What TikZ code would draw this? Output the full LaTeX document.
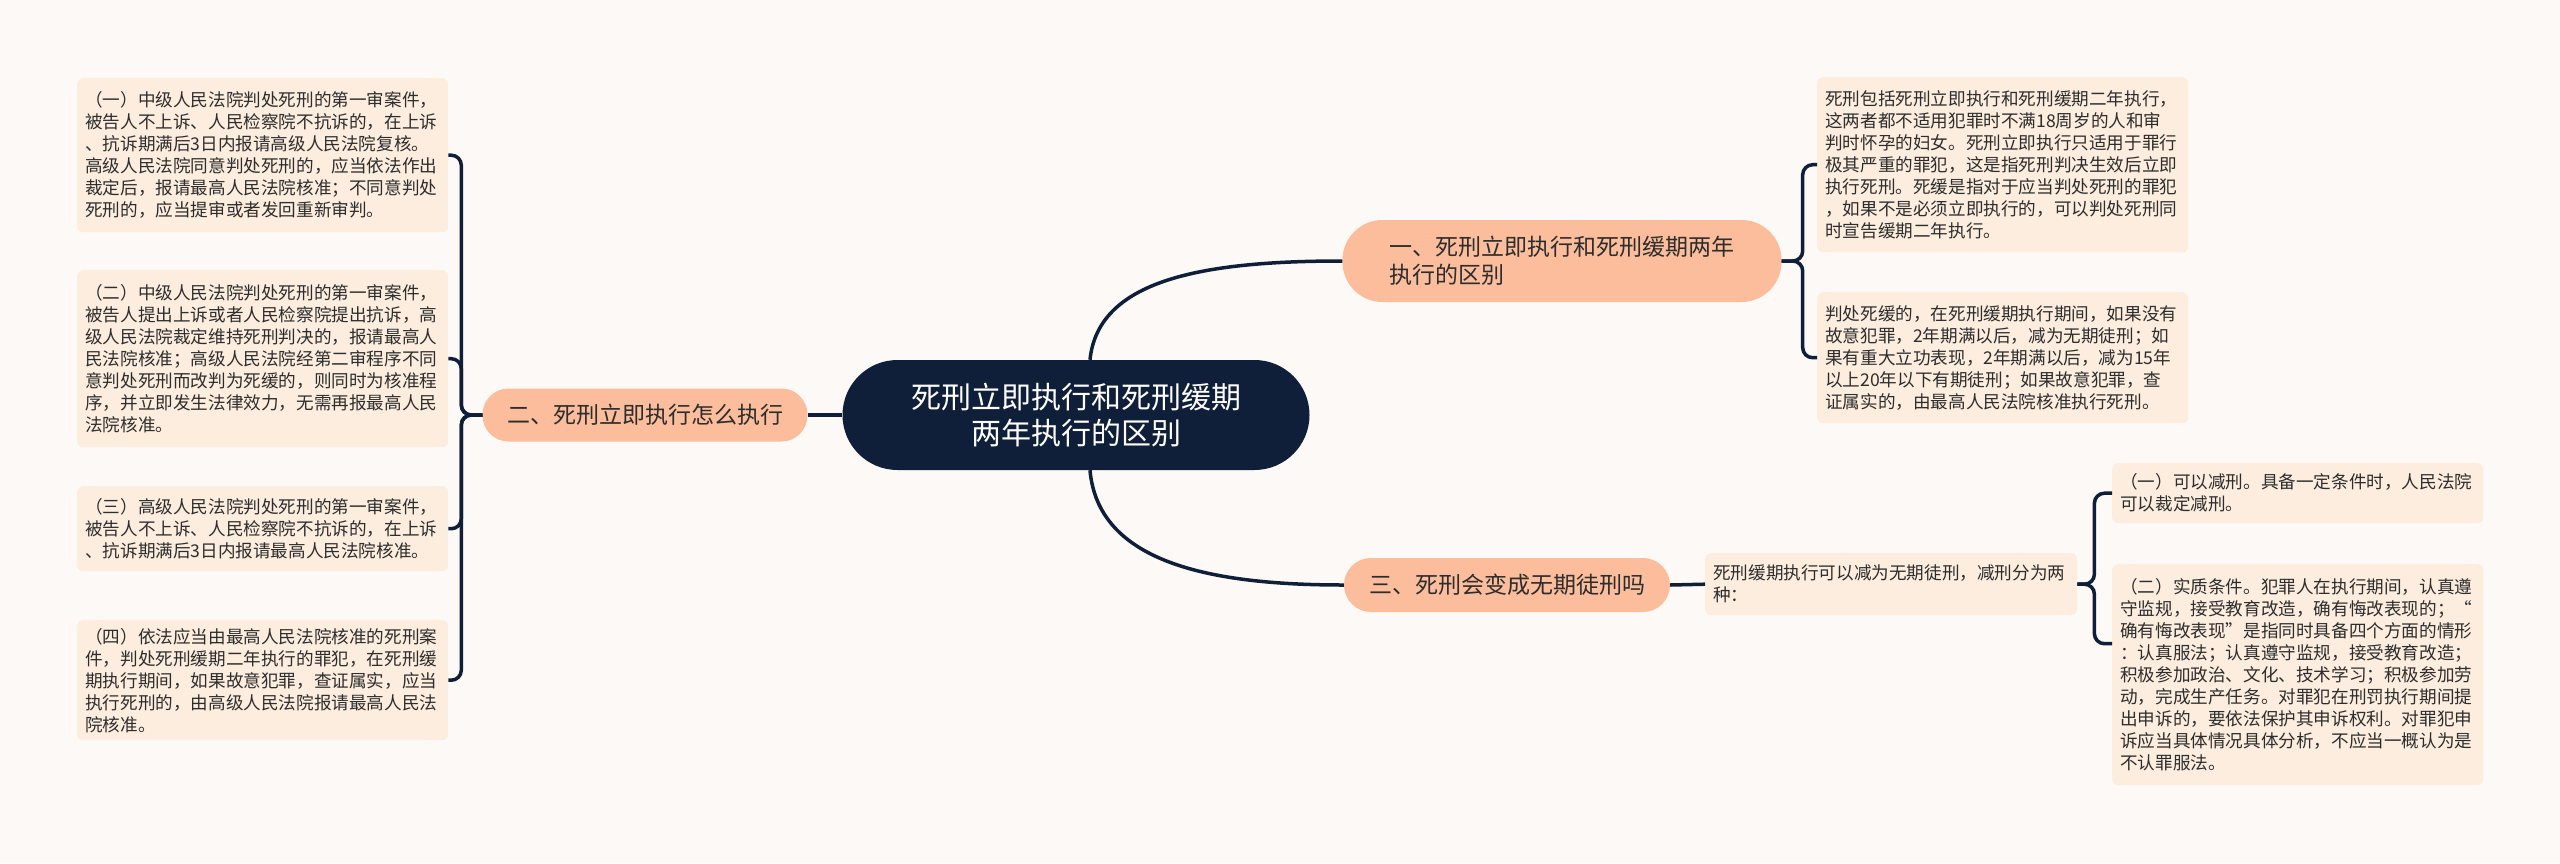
\documentclass[tikz,border=0pt]{standalone}
\usepackage{fontspec}
\setmainfont{Noto Sans CJK SC}
\usepackage{tikz}
\usetikzlibrary{positioning}
\usetikzlibrary{calc}
\definecolor{bgcol}{RGB}{253,249,246}
\definecolor{navy}{RGB}{15,31,58}
\definecolor{peach}{RGB}{251,189,155}
\definecolor{cream}{RGB}{252,237,222}
\definecolor{ink}{RGB}{45,45,45}
\tikzstyle{rootnode}=[fill=navy,text=white,rounded corners=55pt,minimum width=467pt,minimum height=110pt,align=center,font=\fontsize{30}{36}\selectfont]
\tikzstyle{topic}=[fill=peach,text=ink,font=\fontsize{23}{28}\selectfont]
\tikzstyle{leaf}=[fill=cream,text=ink,rounded corners=6pt,anchor=north west,inner xsep=8pt,text width=355pt,align=left,font=\fontsize{17.6}{22}\selectfont]
\tikzstyle{link}=[draw=navy,line width=3.5pt]

\begin{document}
\begin{tikzpicture}[x=1pt,y=-1pt]

  \fill[bgcol] (0,0) rectangle (2560,863);
  \useasboundingbox (0,0) rectangle (2560,863);

  \node[rootnode] (root) at (1076,415) {死刑立即执行和死刑缓期\\两年执行的区别};

  % first level
  \node[topic,rounded corners=40pt,minimum width=439pt,minimum height=82pt,text width=345pt,align=left] (t1) at (1562,261) {一、死刑立即执行和死刑缓期两年\\执行的区别};
  \node[topic,rounded corners=26pt,minimum width=325pt,minimum height=53pt] (t2) at (645,415) {二、死刑立即执行怎么执行};
  \node[topic,rounded corners=27pt,minimum width=326pt,minimum height=54pt] (t3) at (1507,585) {三、死刑会变成无期徒刑吗};

  % left leaves
  \node[leaf,minimum height=154pt] (l1) at (77,78) {（一）中级人民法院判处死刑的第一审案件，\\被告人不上诉、人民检察院不抗诉的，在上诉\\、抗诉期满后3日内报请高级人民法院复核。\\高级人民法院同意判处死刑的，应当依法作出\\裁定后，报请最高人民法院核准；不同意判处\\死刑的，应当提审或者发回重新审判。};
  \node[leaf,minimum height=177pt] (l2) at (77,270) {（二）中级人民法院判处死刑的第一审案件，\\被告人提出上诉或者人民检察院提出抗诉，高\\级人民法院裁定维持死刑判决的，报请最高人\\民法院核准；高级人民法院经第二审程序不同\\意判处死刑而改判为死缓的，则同时为核准程\\序，并立即发生法律效力，无需再报最高人民\\法院核准。};
  \node[leaf,minimum height=85pt] (l3) at (77,486) {（三）高级人民法院判处死刑的第一审案件，\\被告人不上诉、人民检察院不抗诉的，在上诉\\、抗诉期满后3日内报请最高人民法院核准。};
  \node[leaf,minimum height=120pt] (l4) at (77,620) {（四）依法应当由最高人民法院核准的死刑案\\件，判处死刑缓期二年执行的罪犯，在死刑缓\\期执行期间，如果故意犯罪，查证属实，应当\\执行死刑的，由高级人民法院报请最高人民法\\院核准。};

  % right leaves
  \node[leaf,minimum height=175pt] (r1) at (1817,77) {死刑包括死刑立即执行和死刑缓期二年执行，\\这两者都不适用犯罪时不满18周岁的人和审\\判时怀孕的妇女。死刑立即执行只适用于罪行\\极其严重的罪犯，这是指死刑判决生效后立即\\执行死刑。死缓是指对于应当判处死刑的罪犯\\，如果不是必须立即执行的，可以判处死刑同\\时宣告缓期二年执行。};
  \node[leaf,minimum height=131pt] (r2) at (1817,292) {判处死缓的，在死刑缓期执行期间，如果没有\\故意犯罪，2年期满以后，减为无期徒刑；如\\果有重大立功表现，2年期满以后，减为15年\\以上20年以下有期徒刑；如果故意犯罪，查\\证属实的，由最高人民法院核准执行死刑。};
  \node[leaf,minimum height=62pt,text width=356pt] (r3) at (1705,553) {死刑缓期执行可以减为无期徒刑，减刑分为两\\种：};
  \node[leaf,minimum height=60pt] (r4) at (2112,463) {（一）可以减刑。具备一定条件时，人民法院\\可以裁定减刑。};
  \node[leaf,minimum height=221pt] (r5) at (2112,564) {（二）实质条件。犯罪人在执行期间，认真遵\\守监规，接受教育改造，确有悔改表现的；“\\确有悔改表现”是指同时具备四个方面的情形\\：认真服法；认真遵守监规，接受教育改造；\\积极参加政治、文化、技术学习；积极参加劳\\动，完成生产任务。对罪犯在刑罚执行期间提\\出申诉的，要依法保护其申诉权利。对罪犯申\\诉应当具体情况具体分析，不应当一概认为是\\不认罪服法。};

  % connectors
  \draw[link] (t2.east) -- (root.west);
  \draw[link] ([xshift=14pt]root.north) .. controls +(8,-80) and +(-140,0) .. (t1.west);
  \draw[link] ([xshift=14pt]root.south) .. controls +(8,90) and +(-140,0) .. (t3.west);
  \draw[link] (t3.east) -- (r3.west);

  \foreach \dest in {l1,l2,l3,l4}
    \draw[link,rounded corners=10pt] (t2.west) -- ++(-21,0) |- (\dest.east);
  \foreach \dest in {r1,r2}
    \draw[link,rounded corners=10pt] (t1.east) -- ++(21,0) |- (\dest.west);
  \draw[link,rounded corners=10pt] (r3.east) -- ++(17,0) |- (r4.west);
  \draw[link,rounded corners=10pt] (r3.east) -- ++(17,0) |- ([yshift=31pt]r5.west);

\end{tikzpicture}
\end{document}
